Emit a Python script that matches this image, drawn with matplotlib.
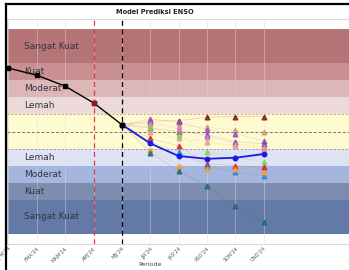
import numpy as np
import matplotlib
matplotlib.use('Agg')
import matplotlib.pyplot as plt
from matplotlib.lines import Line2D

# ── Data ─────────────────────────────────────────────────────────────────────
periode = ["JFM'24", "FMA'24", "MAM'24", "AMJ'24", "MJJ'24",
           "JJA'24", "JAS'24", "ASO'24", "SON'24", "OND'24"]

obs_idx = [0, 1, 2, 3, 4]
obs_val = [1.86, 1.65, 1.33, 0.84, 0.20]

pred_idx = [4, 5, 6, 7, 8, 9]
mean_val = [0.20, -0.35, -0.72, -0.80, -0.77, -0.66]

# ensemble members (start at last observation)
members = {
    'brown':  ('#7a1f1f', [0.20, 0.30, 0.32, 0.42, 0.44, 0.44]),
    'tan':    ('#c9a27e', [0.20, 0.25, 0.15, 0.13, 0.03, -0.02]),
    'purple': ('#9b4fc4', [0.20, 0.37, 0.27, 0.05, -0.06, -0.28]),
    'violet': ('#7b3fa6', [0.20, 0.10, 0.00, -0.10, -0.30, -0.36]),
    'pink':   ('#e377c2', [0.20, 0.22, 0.08, -0.15, -0.36, -0.46]),
    'salmon': ('#e89a8e', [0.20, 0.00, -0.20, -0.30, -0.42, -0.52]),
    'green':  ('#7fd65a', [0.20, 0.12, -0.10, -0.60, -0.75, -0.88]),
    'red':    ('#d62728', [0.20, -0.20, -0.42, -0.95, -1.00, -1.05]),
    'blue':   ('#2f86d0', [0.20, -0.30, -0.60, -1.00, -1.20, -1.30]),
    'orange': ('#ff9a2a', [0.20, -0.55, -1.00, -1.10, -1.10, -1.18]),
    'teal':   ('#1e6b6e', [0.20, -0.62, -1.17, -1.60, -2.18, -2.65]),
}

# ENSO bands (bottom, top, colour, label)
bands = [
    (2.0, 3.0, '#b57476', 'Sangat Kuat'),
    (1.5, 2.0, '#c98f91', 'Kuat'),
    (1.0, 1.5, '#ddb6b7', 'Moderat'),
    (0.5, 1.0, '#ecd9da', 'Lemah'),
    (-0.5, 0.5, '#fffbd0', None),
    (-1.0, -0.5, '#dde3f2', 'Lemah'),
    (-1.5, -1.0, '#a4b6dd', 'Moderat'),
    (-2.0, -1.5, '#7c8daf', 'Kuat'),
    (-3.0, -2.0, '#6379a6', 'Sangat Kuat'),
]

# ── Figure ───────────────────────────────────────────────────────────────────
fig = plt.figure(figsize=(3.49, 2.70), dpi=100, facecolor='white')
ax = fig.add_axes([7/349, 26/270, 342/349, 225/270])
ax.set_xlim(-0.05, 12.0)
ax.set_ylim(-3.3, 3.3)

for lo, hi, col, lab in bands:
    ax.axhspan(lo, hi, color=col, lw=0, zorder=0)
    if lab:
        ax.text(0.55, (lo + hi) / 2, lab, fontsize=6.5, color='#333344',
                va='center', ha='left', zorder=1)

for i in range(len(periode)):
    ax.axvline(i, color='#dcdcdc', lw=0.5, alpha=0.6, zorder=0.5)

ax.axhline(0.5, color='#d9a070', lw=0.7, ls=(0, (2, 2)), zorder=1)
ax.axhline(0.0, color='#7a7060', lw=0.7, ls=(0, (3, 2)), zorder=1)
ax.axhline(-0.5, color='#9c94b8', lw=0.7, ls=(0, (2, 2)), zorder=1)

ax.axvline(3, color='#e03a48', lw=0.9, ls=(0, (4, 3)), zorder=2)
ax.axvline(4, color='black', lw=0.9, ls=(0, (4, 3)), zorder=2)

# ensemble members
for name, (col, vals) in members.items():
    ax.plot(pred_idx, vals, color=col, lw=0.5, alpha=0.2, zorder=2)
    ax.plot(pred_idx[1:], vals[1:], ls='none', marker='^', ms=3.4,
            color=col, alpha=0.85, zorder=3)

# observed
ax.plot([-0.05] + obs_idx, [1.88] + obs_val, color='black', lw=1.0, zorder=4)
ax.plot(obs_idx, obs_val, ls='none', marker='s', ms=2.6, color='black', zorder=5)
ax.plot(obs_idx[3], obs_val[3], marker='s', ms=2.6, color='#8b1a1a', zorder=6)

# ensemble mean
ax.plot(pred_idx, mean_val, color='#1a1ae6', lw=1.3, marker='o', ms=3.2,
        zorder=6)
ax.plot(pred_idx[0], mean_val[0], marker='s', ms=2.6, color='black', zorder=7)

ax.set_xticks(range(len(periode)))
ax.set_xticklabels(periode, rotation=45, ha='right', rotation_mode='anchor',
                   fontsize=3.6, color='#555555')
ax.tick_params(axis='both', length=0, pad=1.5)
ax.set_yticks([])
ax.set_xlabel('Periode', fontsize=4.5, color='#444444', va='center')
ax.xaxis.set_label_coords((150 - 7) / 342, (244 - 265) / 225)

for s in ['top', 'bottom', 'left']:
    ax.spines[s].set_color('#d8d8d8')
    ax.spines[s].set_linewidth(0.8)
ax.spines['right'].set_visible(False)

fig.text(155/349, 1 - 12/270, 'Model Prediksi ENSO', fontsize=4.8,
         fontweight='bold', ha='center', va='center', color='#222222')

# frame lines of the screenshot
fig.add_artist(Line2D([6/349, 1], [1 - 4/270, 1 - 4/270], color='black', lw=1.6))
fig.add_artist(Line2D([6/349, 6/349], [0, 1 - 4/270], color='black', lw=1.6))

plt.savefig('out.png', dpi=100, facecolor='white')
plt.close()
